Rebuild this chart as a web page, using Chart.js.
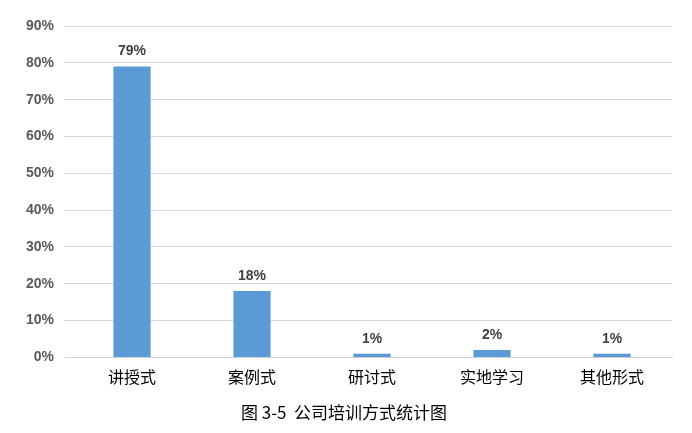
<!DOCTYPE html>
<html lang="zh">
<head>
<meta charset="UTF-8">
<script src="https://cdn.jsdelivr.net/npm/chart.js"></script>
<style>
  body { margin: 0; background: #fff; }
  #wrap { width: 692px; height: 433px; }
</style>
</head>
<body>
<div id="wrap"><canvas id="c"></canvas></div>
<script>
  const categories = ['讲授式', '案例式', '研讨式', '实地学习', '其他形式'];
  const values = [79, 18, 1, 2, 1];
  const yTicks = [0, 10, 20, 30, 40, 50, 60, 70, 80, 90];
  const chartTitle = '图 3-5  公司培训方式统计图';

  // draws the percentage above each bar
  const barLabels = {
    id: 'barLabels',
    afterDatasetsDraw(chart) {
      const ctx = chart.ctx;
      ctx.save();
      ctx.font = 'bold 14px "Liberation Sans", Arial, sans-serif';
      ctx.fillStyle = '#404040';
      ctx.textAlign = 'center';
      ctx.textBaseline = 'bottom';
      chart.getDatasetMeta(0).data.forEach((bar, i) => {
        ctx.fillText(values[i] + '%', bar.x, bar.y - 8);
      });
      ctx.restore();
    }
  };

  new Chart(document.getElementById('c'), {
    type: 'bar',
    data: {
      labels: categories,
      datasets: [{
        data: values,
        backgroundColor: '#5B9BD5',
        categoryPercentage: 1,
        barPercentage: 0.31
      }]
    },
    options: {
      responsive: true,
      maintainAspectRatio: false,
      animation: false,
      layout: { padding: { top: 26, right: 20, left: 16, bottom: 10 } },
      plugins: {
        legend: { display: false },
        tooltip: { enabled: false },
        title: {
          display: true,
          text: chartTitle,
          position: 'bottom',
          color: '#000',
          font: { size: 17, family: '"Noto Sans CJK SC", sans-serif', weight: 'normal' },
          padding: { top: 14, bottom: 0 }
        }
      },
      scales: {
        x: {
          grid: { display: false },
          border: { color: '#d0d0d0' },
          ticks: {
            color: '#000',
            font: { size: 16, family: '"Noto Sans CJK SC", sans-serif' },
            padding: 2
          }
        },
        y: {
          min: 0,
          max: 90,
          afterBuildTicks(axis) { axis.ticks = yTicks.map(v => ({ value: v })); },
          grid: { color: '#d9d9d9' },
          border: { display: false },
          ticks: {
            color: '#595959',
            font: { size: 14, weight: 'bold', family: '"Liberation Sans", Arial, sans-serif' },
            padding: 10,
            callback: v => v + '%'
          }
        }
      }
    },
    plugins: [barLabels]
  });
</script>
</body>
</html>
